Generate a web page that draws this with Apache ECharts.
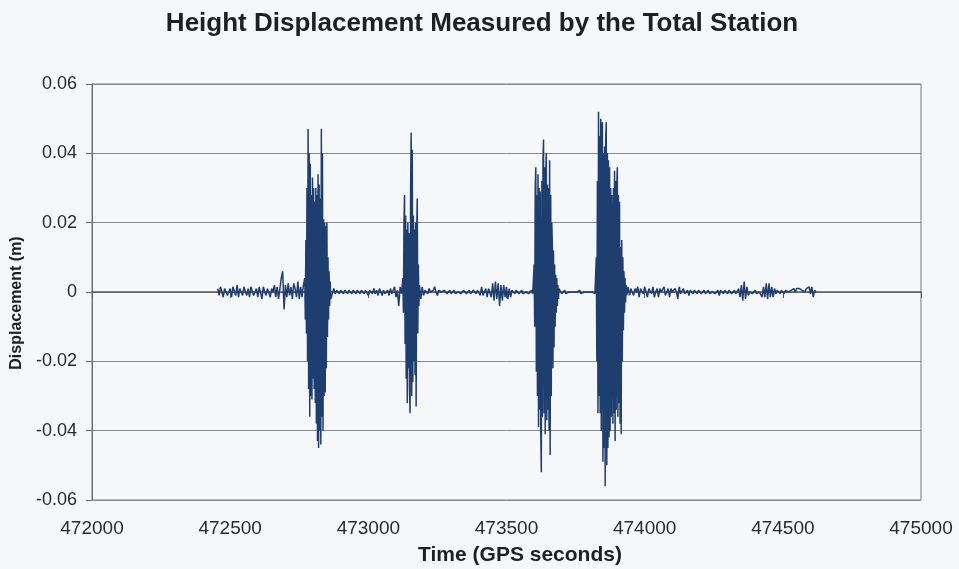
<!DOCTYPE html>
<html>
<head>
<meta charset="utf-8">
<script src="https://cdn.jsdelivr.net/npm/echarts@6/dist/echarts.min.js"></script>
<style>
html,body{margin:0;padding:0;background:#f6f7f9;}
#chart{width:959px;height:569px;}
</style>
</head>
<body>
<div id="chart"></div>
<script>
// Height displacement (m). Each record: first sample time (GPS s), sample step (s), values.
const quiet1Start = 472455, quiet1Step = 5;
const quiet1 = [
  0.001, -0.001, 0.0015, 0.000, -0.0015, 0.001, 0.0015, -0.001, 0.000, 0.001,
  -0.0015, 0.0015, 0.001, -0.001, 0.002, -0.0015, 0.001, 0.000, -0.001, 0.0015,
  0.000, -0.001, 0.001, -0.0015, 0.0015, 0.002, -0.001, 0.000, 0.001, -0.0015,
  0.0015, 0.001, -0.002, 0.0015, 0.000, -0.001, 0.001, 0.0015, -0.0015, 0.001,
  0.000, 0.002, -0.0015, 0.0015, -0.002, 0.001, 0.004, 0.006, -0.005, 0.002,
  -0.0015, 0.0025, -0.001, 0.0015, -0.002, 0.0025, 0.001, -0.0015, 0.003, -0.002,
  0.0015, -0.0015, 0.002
];
const burst1Start = 472770, burst1Step = 2;
const burst1 = [
  0.004, -0.008, 0.015, -0.012, 0.030, -0.020, 0.047, -0.028, 0.040, -0.036,
  0.037, -0.030, 0.028, -0.031, 0.033, -0.025, 0.030, -0.028, 0.026, -0.032,
  0.030, -0.038, 0.028, -0.043, 0.034, -0.045, 0.031, -0.040, 0.027, -0.044,
  0.047, -0.036, 0.040, -0.040, 0.021, -0.030, 0.020, -0.029, 0.019, -0.022,
  0.020, -0.013, 0.010, -0.008, 0.006, -0.004, 0.003, -0.002
];
const quiet2Start = 472870, quiet2Step = 5;
const quiet2 = [
  -0.0015, 0.001, -0.0005, 0.0005, 0.000, -0.0005, 0.0005, 0.000, -0.0005, 0.0005,
  0.000, -0.0005, 0.0005, 0.000, -0.0005, 0.0005, 0.000, -0.0005, 0.0005, 0.000,
  -0.0005, 0.0005, 0.000, -0.0005, 0.0005, 0.000, -0.001, 0.0005, 0.000, -0.0005,
  0.001, -0.0005, 0.0005, -0.001, 0.001, 0.0015, -0.001, 0.0005, -0.0005, 0.000,
  0.0005, -0.001, 0.001, -0.0005, 0.000, 0.0015, -0.0015, 0.0005, -0.004, 0.0015, -0.0005
];
const burst2Start = 473125, burst2Step = 2;
const burst2 = [
  0.004, -0.006, 0.020, 0.028, -0.015, 0.022, -0.025, 0.018, -0.032, 0.020,
  -0.022, 0.017, -0.028, -0.035, 0.030, 0.046, -0.030, 0.041, -0.026, 0.022,
  -0.020, 0.018, -0.024, 0.020, -0.033, 0.016, 0.027, -0.012, 0.008, -0.004, 0.002
];
const quiet3Start = 473190, quiet3Step = 5;
const quiet3 = [
  -0.002, 0.0015, -0.001, 0.0005, 0.000, -0.0005, 0.001, 0.000, -0.0005, 0.0005,
  0.0015, 0.000, -0.001, 0.0005, 0.000, 0.000, -0.0005, 0.0005, 0.000, -0.0005,
  0.000, 0.0005, -0.0005, 0.000, 0.0005, -0.0005, 0.000, 0.000, 0.0005, -0.0005,
  0.000, 0.0005, 0.000, -0.0005, 0.000, 0.0005, -0.0005, 0.000, 0.0005, 0.000,
  -0.0005, 0.0005, 0.000, -0.001, 0.0015, -0.001, 0.000, 0.001, -0.0015, 0.001,
  0.0015, -0.0015, 0.0025, -0.0025, 0.003, -0.002, 0.0025, -0.004, 0.002, -0.0025,
  0.002, -0.0015, 0.0015, -0.002, 0.001, -0.0015, 0.0005, 0.000, -0.0005, 0.0005,
  0.000, -0.0005, 0.000, 0.0005, -0.0005, 0.000, 0.000, 0.0005, -0.0005, 0.000, 0.0005, -0.0005
];
const burst3Start = 473600, burst3Step = 2;
const burst3 = [
  0.008, -0.010, 0.030, 0.036, -0.023, 0.028, -0.030, 0.034, -0.039, 0.030,
  -0.034, 0.029, -0.040, -0.052, 0.032, -0.036, 0.038, 0.044, -0.035, 0.036,
  -0.041, 0.033, 0.040, -0.037, 0.031, -0.034, 0.030, -0.040, 0.038, -0.047,
  0.028, -0.030, 0.020, 0.013, -0.022, 0.012, -0.016, 0.008, -0.010, 0.005,
  -0.006, 0.004, -0.004, 0.002, -0.002, 0.001
];
const quiet4Start = 473695, quiet4Step = 5;
const quiet4 = [
  0.0015, -0.0005, 0.000, 0.0005, -0.0005, 0.000, 0.000, -0.0005, 0.000, 0.0005,
  0.000, -0.0005, 0.000, 0.000, 0.0005, -0.0005, 0.000, 0.000, -0.0005, 0.000,
  0.0005, 0.000, -0.0005, 0.000, 0.0005, -0.0005
];
const burst4Start = 473825, burst4Step = 2;
const burst4 = [
  0.010, -0.020, 0.032, -0.035, 0.052, -0.030, 0.045, -0.035, 0.050, -0.040,
  0.046, 0.049, -0.049, 0.040, -0.045, 0.042, -0.056, 0.044, 0.049, -0.050,
  0.040, -0.045, 0.038, -0.042, 0.036, -0.040, 0.030, -0.036, 0.028, 0.013,
  -0.038, 0.030, -0.035, 0.035, -0.043, 0.032, -0.034, 0.030, 0.036, -0.036,
  0.028, -0.032, 0.026, -0.038, 0.013, -0.041, 0.015, -0.020, 0.010, -0.011,
  0.006, -0.006, 0.004, -0.003, 0.002, -0.001
];
const quiet5Start = 473940, quiet5Step = 5;
const quiet5 = [
  0.0015, -0.001, 0.001, 0.0015, -0.001, 0.001, 0.000, 0.0015, -0.0015, 0.001,
  0.001, -0.0005, 0.0015, 0.000, -0.0015, 0.001, 0.001, -0.0005, 0.0015, -0.0015,
  0.000, 0.001, -0.0015, 0.001, 0.000, -0.0005, 0.0015, -0.001, 0.000, 0.001,
  -0.0015, 0.001, 0.000, -0.0005, 0.001, 0.000, -0.002, 0.0015, -0.0005, 0.000,
  0.001, -0.0005, 0.000, 0.0005, -0.001, 0.0005, 0.000, -0.0005, 0.0005, 0.000,
  -0.0005, 0.0005, 0.000, -0.0005, 0.000, 0.0005, -0.0005, 0.000, 0.0005, -0.0005,
  0.000, 0.000, 0.0005, -0.0005, 0.000, 0.0005, -0.001, 0.0005, 0.000, -0.0005,
  0.0005, 0.000, -0.0005, 0.0005, 0.000, -0.0005, 0.000, 0.0005, -0.0005, 0.000,
  0.001, -0.0015, 0.002, -0.0025, 0.003, -0.002, 0.0015, -0.001, 0.000, 0.0005,
  -0.0005, 0.000, 0.0005, -0.0005, 0.000, 0.000, 0.0005, -0.0015, 0.0015, -0.0015,
  0.0025, -0.002, 0.0025, -0.0015, 0.0015, -0.0015, 0.001, -0.0005, 0.0005, 0.000,
  -0.0005, 0.0005, 0.000, -0.0005, 0.0005, 0.000, 0.000, -0.0005, 0.0005, 0.000,
  0.001, 0.000, 0.001, 0.0005, 0.001, 0.001, 0.0005, 0.001, 0.000, 0.001,
  0.0005, 0.0015, -0.0005, 0.0015, -0.0015, 0.0005, 0.000
];

const xTicks = [472000, 472500, 473000, 473500, 474000, 474500, 475000];
const yTicks = [-0.06, -0.04, -0.02, 0, 0.02, 0.04, 0.06];

const records = [
  [quiet1Start, quiet1Step, quiet1], [burst1Start, burst1Step, burst1],
  [quiet2Start, quiet2Step, quiet2], [burst2Start, burst2Step, burst2],
  [quiet3Start, quiet3Step, quiet3], [burst3Start, burst3Step, burst3],
  [quiet4Start, quiet4Step, quiet4], [burst4Start, burst4Step, burst4],
  [quiet5Start, quiet5Step, quiet5]
];
const seriesData = [];
records.forEach(([t0, dt, vals]) => vals.forEach((v, i) => seriesData.push([t0 + i * dt, v])));

const chart = echarts.init(document.getElementById('chart'), null, {renderer: 'canvas'});
const font = '"Liberation Sans", Arial, sans-serif';
chart.setOption({
  backgroundColor: '#f6f7f9',
  animation: false,
  title: {
    text: 'Height Displacement Measured by the Total Station',
    left: 477, top: 6, textAlign: 'center',
    textStyle: {fontFamily: font, fontSize: 26, fontWeight: 'bold', color: '#1f1f1f'}
  },
  grid: {left: 92, right: 38, top: 84, bottom: 69, outerBoundsMode: 'none', containLabel: false,
    show: true, borderColor: '#7a7a7a', borderWidth: 1, backgroundColor: 'transparent'},
  xAxis: {
    type: 'value', min: xTicks[0], max: xTicks[xTicks.length - 1], interval: 500,
    name: 'Time (GPS seconds)', nameLocation: 'middle', nameGap: 45,
    nameTextStyle: {fontFamily: font, fontSize: 21, fontWeight: 'bold', color: '#1f1f1f', padding: [0, 0, 0, 27]},
    axisLine: {show: true, lineStyle: {color: '#5a5a5a', width: 1.5}},
    axisTick: {show: true, length: 6, lineStyle: {color: '#5a5a5a'}},
    axisLabel: {fontFamily: font, fontSize: 19, color: '#2a2a2a', margin: 19, formatter: v => String(v)},
    splitLine: {show: false}
  },
  yAxis: {
    type: 'value', min: yTicks[0], max: yTicks[yTicks.length - 1], interval: 0.02,
    name: 'Displacement (m)', nameLocation: 'middle', nameGap: 67, nameRotate: 90,
    nameTextStyle: {fontFamily: font, fontSize: 16, fontWeight: 'bold', color: '#1f1f1f', padding: [0, 22, 0, 0]},
    axisLine: {show: true, lineStyle: {color: '#6a6a6a', width: 1}},
    axisTick: {show: true, length: 6, lineStyle: {color: '#6a6a6a'}},
    axisLabel: {fontFamily: font, fontSize: 18, color: '#2a2a2a', margin: 15,
      formatter: v => String(Math.round(v * 100) / 100)},
    splitLine: {show: true, lineStyle: {color: '#8a8a8a', width: 1}}
  },
  series: [{
    type: 'line', data: seriesData, showSymbol: false, symbol: 'none',
    sampling: null,
    lineStyle: {color: '#1f3e70', width: 1.5},
    z: 3
  }]
});
</script>
</body>
</html>
